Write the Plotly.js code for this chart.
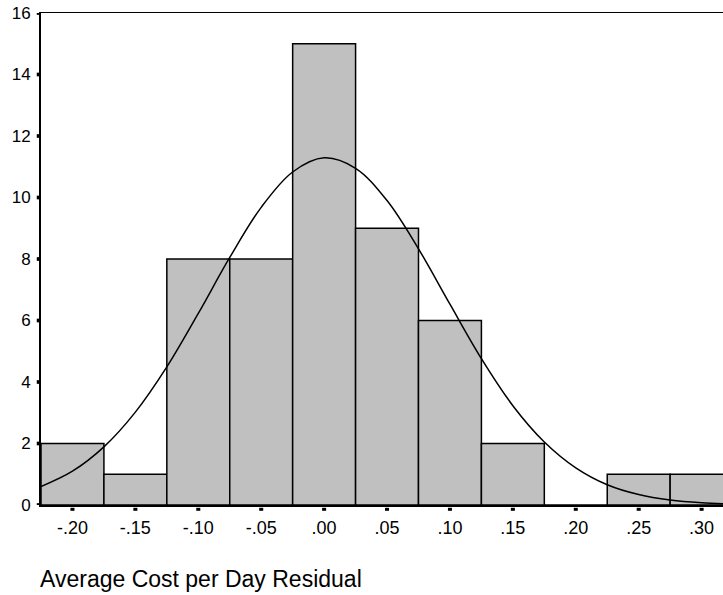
<!DOCTYPE html>
<html>
<head>
<meta charset="utf-8">
<script src="https://cdn.plot.ly/plotly-3.0.1.min.js"></script>
<style>html,body{margin:0;padding:0;background:#fff;}#chart{width:723px;height:595px;}</style>
</head>
<body>
<div id="chart"></div>
<script>
// Histogram bins (centers) and counts
const binCenters = [-0.20, -0.15, -0.10, -0.05, 0.00, 0.05, 0.10, 0.15, 0.20, 0.25, 0.30];
const binCounts  = [2, 1, 8, 8, 15, 9, 6, 2, 0, 1, 1];
const binWidth = 0.05;

// Fitted normal curve
const curveX = [-0.225, -0.2, -0.175, -0.15, -0.125, -0.1, -0.075, -0.05, -0.025, 0, 0.025, 0.05, 0.075, 0.1, 0.125, 0.15, 0.175, 0.2, 0.225, 0.25, 0.275, 0.3, 0.325];
const curveY = [0.60, 1.10, 1.89, 3.02, 4.49, 6.23, 8.05, 9.68, 10.83, 11.29, 10.95, 9.90, 8.33, 6.53, 4.76, 3.23, 2.05, 1.21, 0.66, 0.34, 0.16, 0.07, 0.03];

// Tick labels
const xTickVals = [-0.20, -0.15, -0.10, -0.05, 0.00, 0.05, 0.10, 0.15, 0.20, 0.25, 0.30];
const xTickText = ["-.20", "-.15", "-.10", "-.05", ".00", ".05", ".10", ".15", ".20", ".25", ".30"];
const yTickVals = [0, 2, 4, 6, 8, 10, 12, 14, 16];
const xTitle = "Average Cost per Day Residual";

const font = "Liberation Sans, Arial, sans-serif";

const traces = [
  {
    type: "bar",
    x: binCenters,
    y: binCounts,
    width: binCenters.map(() => binWidth),
    marker: {color: "#c0c0c0", line: {color: "#000", width: 1.5}},
    hoverinfo: "x+y"
  },
  {
    type: "scatter",
    mode: "lines",
    x: curveX,
    y: curveY,
    line: {color: "#000", width: 1.5, shape: "spline"},
    hoverinfo: "skip"
  }
];

// Small square tick marks (SPSS style), placed at the tick values
const xTickMarks = xTickVals.map(v => ({
  type: "rect", xref: "x", yref: "paper",
  x0: v - 0.0016, x1: v + 0.0016, y0: -0.0118, y1: -0.0057,
  fillcolor: "#000", line: {width: 0}, layer: "above"
}));
const yTickMarks = yTickVals.map(v => ({
  type: "rect", xref: "paper", yref: "y",
  x0: -0.0062, x1: -0.0018, y0: v - 0.06, y1: v + 0.06,
  fillcolor: "#000", line: {width: 0}, layer: "above"
}));

const layout = {
  width: 723,
  height: 595,
  margin: {l: 41, r: 0, t: 13, b: 90},
  paper_bgcolor: "#fff",
  plot_bgcolor: "#fff",
  showlegend: false,
  bargap: 0,
  font: {family: font, color: "#000"},
  xaxis: {
    range: [-0.225, 0.317],
    tickmode: "array",
    tickvals: xTickVals,
    ticktext: xTickText,
    ticks: "outside",
    ticklen: 6,
    tickwidth: 4,
    tickcolor: "rgba(0,0,0,0)",
    tickfont: {size: 18, family: font, color: "#000"},
    showgrid: false,
    zeroline: false,
    showline: true,
    linecolor: "#000",
    linewidth: 1.5,
    mirror: true
  },
  yaxis: {
    range: [0, 16],
    tickmode: "array",
    tickvals: yTickVals,
    ticks: "outside",
    ticklen: 5,
    tickwidth: 3,
    tickcolor: "rgba(0,0,0,0)",
    tickfont: {size: 17, family: font, color: "#000"},
    showgrid: false,
    zeroline: false,
    showline: true,
    linecolor: "#000",
    linewidth: 2
  },
  shapes: xTickMarks.concat(yTickMarks),
  annotations: [
    {
      text: xTitle,
      xref: "paper", yref: "paper",
      x: -0.004, y: -0.151,
      xanchor: "left", yanchor: "middle",
      showarrow: false,
      font: {size: 23, family: font, color: "#000"}
    }
  ]
};

Plotly.newPlot("chart", traces, layout, {displayModeBar: false, staticPlot: true});
</script>
</body>
</html>
